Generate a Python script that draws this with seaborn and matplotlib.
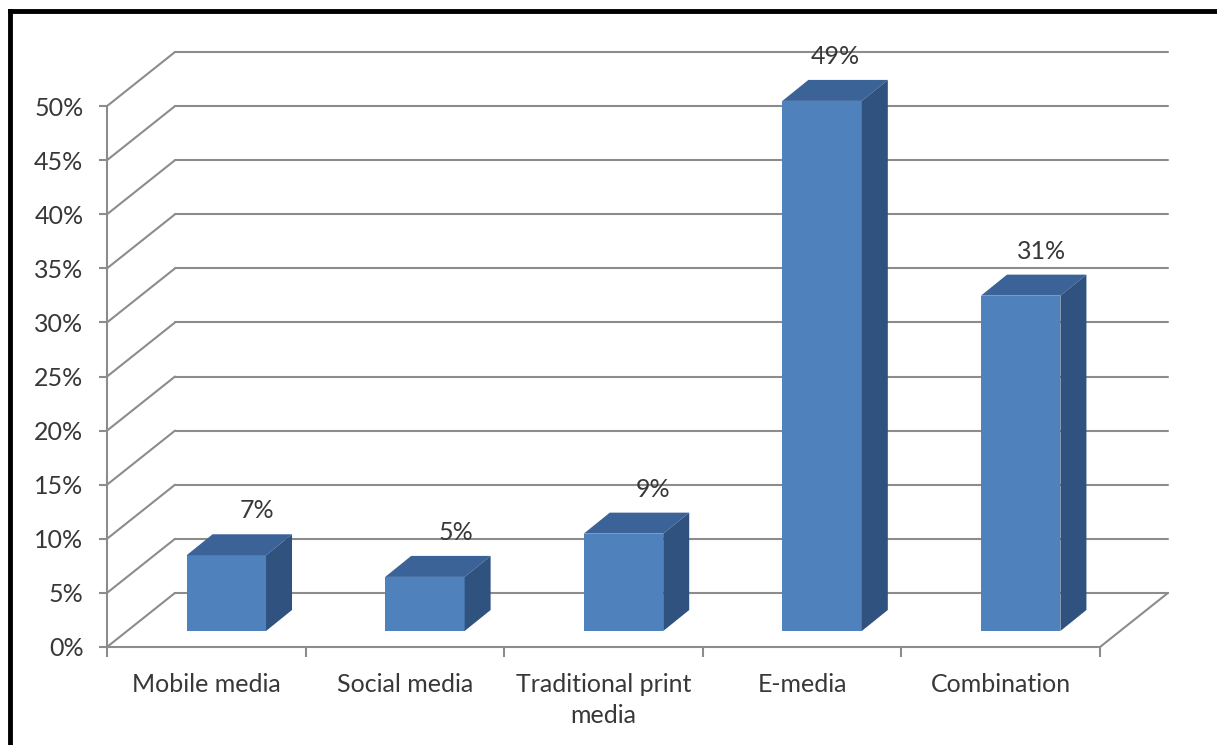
import seaborn as sns
import pandas as pd
import matplotlib.pyplot as plt
from matplotlib import transforms
from matplotlib.patches import Polygon
from matplotlib.lines import Line2D
from matplotlib.ticker import PercentFormatter

categories = ['Mobile media', 'Social media', 'Traditional print\nmedia', 'E-media', 'Combination']
shares = [7, 5, 9, 49, 31]
yticks = list(range(0, 55, 5))

sns.set_style('white')
plt.rcParams['font.family'] = ['Lato', 'DejaVu Sans']

front_col = '#4f81bd'
top_col = '#3b6397'
side_col = '#30527f'
grid_col = '#8c8c8c'
text_col = '#383838'

W, H = 1217, 745
fig = plt.figure(figsize=(W / 100, H / 100), dpi=100)
ax = fig.add_axes([107 / W, 98 / H, 993 / W, 595 / H])

df = pd.DataFrame({'medium': categories, 'share': shares})
sns.barplot(data=df, x='medium', y='share', width=0.4, color=front_col, saturation=1,
            linewidth=0, edgecolor='none', ax=ax, zorder=3)
ax.set_xlim(-0.5, 4.5)
ax.set_ylim(0, 55)

# pixels per data unit
px_x = 993 / 5
px_y = 595 / 55

# back wall depth
bx, by = 68 / px_x, 5
for v in yticks:
    ax.plot([-0.5 + bx, 4.5 + bx], [v + by, v + by], color=grid_col, lw=1.5, clip_on=False, zorder=1)
    ax.plot([-0.5, -0.5 + bx], [v, v + by], color=grid_col, lw=1.5, clip_on=False, zorder=1)
ax.plot([4.5, 4.5 + bx], [0, by], color=grid_col, lw=1.5, clip_on=False, zorder=1)

# bars sit part way into the floor; give them a top and a side
fx, fy = 20, 16
dx, dy = 26 / px_x, 21 / px_y
fxd, fyd = fx / px_x, fy / px_y
shift = transforms.offset_copy(ax.transData, fig=fig, x=fx, y=fy, units='dots')
for p in ax.patches:
    p.set_transform(shift)
    x0 = p.get_x() + fxd
    x1 = x0 + p.get_width()
    y0 = p.get_y() + fyd
    y1 = p.get_y() + p.get_height() + fyd
    ax.add_patch(Polygon([(x0, y1), (x1, y1), (x1 + dx, y1 + dy), (x0 + dx, y1 + dy)],
                         closed=True, facecolor=top_col, edgecolor='none', zorder=3, clip_on=False))
    ax.add_patch(Polygon([(x1, y0), (x1 + dx, y0 + dy), (x1 + dx, y1 + dy), (x1, y1)],
                         closed=True, facecolor=side_col, edgecolor='none', zorder=3, clip_on=False))

for i, v in enumerate(shares):
    ax.text(i + fxd + (33 - 0.4 * v) / px_x, v + 5.6, f'{v}%', ha='center', va='center',
            fontsize=18, color=text_col, zorder=5, clip_on=False)

for s in ['top', 'right']:
    ax.spines[s].set_visible(False)
for s in ['left', 'bottom']:
    ax.spines[s].set_color(grid_col)
    ax.spines[s].set_linewidth(1.5)
ax.spines['left'].set_bounds(0, 50)

ax.set_yticks(yticks)
ax.yaxis.set_major_formatter(PercentFormatter(decimals=0))
ax.tick_params(axis='y', length=6, width=1.5, color=grid_col, pad=11, labelsize=18,
               labelcolor=text_col, left=True)
ax.set_xticks(range(len(categories)))
ax.set_xticklabels(categories, linespacing=1.4)
ax.set_xticks([i - 0.5 for i in range(len(categories) + 1)], minor=True)
ax.tick_params(axis='x', which='major', length=0, pad=19, labelsize=18, labelcolor=text_col)
ax.tick_params(axis='x', which='minor', length=7, width=1.5, color=grid_col, bottom=True)
ax.set_xlabel('')
ax.set_ylabel('')
ax.grid(False)

fig.add_artist(Line2D([9.5 / W, 9.5 / W], [0, 1 - 11 / H], transform=fig.transFigure,
                      color='black', lw=3.5, solid_capstyle='projecting'))
fig.add_artist(Line2D([9.5 / W, 1], [1 - 11 / H, 1 - 11 / H], transform=fig.transFigure,
                      color='black', lw=3.5, solid_capstyle='projecting'))

fig.savefig('out.png', dpi=100)
